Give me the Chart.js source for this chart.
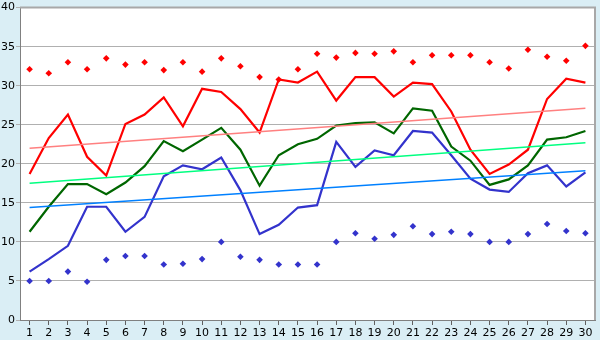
<!DOCTYPE html>
<html>
<head>
<meta charset="utf-8">
<script src="https://cdn.jsdelivr.net/npm/chart.js@4"></script>
<style>
  body { margin: 0; background: #daeef5; }
  #wrap { width: 600px; height: 340px; }
</style>
</head>
<body>
<div id="wrap"><canvas id="myChart" width="600" height="340"></canvas></div>
<script>
let days = [];
for (let i = 1; i <= 30; i++) days.push(String(i));

let highValues = [32.1, 31.6, 33.0, 32.1, 33.5, 32.7, 33.0, 32.0, 33.0, 31.8,
  33.5, 32.5, 31.1, 30.8, 32.1, 34.1, 33.6, 34.2, 34.1, 34.4,
  33.0, 33.9, 33.9, 33.9, 33.0, 32.2, 34.6, 33.7, 33.2, 35.1];
let redValues = [18.7, 23.3, 26.3, 20.9, 18.5, 25.1, 26.3, 28.5, 24.8, 29.6,
  29.2, 27.0, 24.0, 30.8, 30.4, 31.8, 28.1, 31.1, 31.1, 28.6,
  30.4, 30.2, 26.7, 21.8, 18.7, 19.9, 21.8, 28.3, 30.9, 30.4];
let greenValues = [11.3, 14.5, 17.4, 17.4, 16.1, 17.6, 19.7, 22.9, 21.6, 23.1,
  24.6, 21.8, 17.2, 21.1, 22.5, 23.2, 24.9, 25.2, 25.3, 23.9,
  27.1, 26.8, 22.2, 20.4, 17.3, 18.0, 19.8, 23.1, 23.4, 24.2];
let blueValues = [6.2, 7.8, 9.5, 14.5, 14.5, 11.3, 13.2, 18.4, 19.8, 19.3,
  20.8, 16.6, 11.0, 12.2, 14.4, 14.7, 22.8, 19.6, 21.7, 21.1,
  24.2, 24.0, 21.1, 18.1, 16.7, 16.4, 18.8, 19.8, 17.1, 18.9];
let lowValues = [5.0, 5.0, 6.2, 4.9, 7.7, 8.2, 8.2, 7.1, 7.2, 7.8,
  10.0, 8.1, 7.7, 7.1, 7.1, 7.1, 10.0, 11.1, 10.4, 10.9,
  12.0, 11.0, 11.3, 11.0, 10.0, 10.0, 11.0, 12.3, 11.4, 11.1];

// trend lines: value at day 1 and at day 30
let redTrend = [22.0, 27.1];
let greenTrend = [17.5, 22.7];
let blueTrend = [14.4, 19.1];

function trendData(ends) {
  let data = days.map(() => null);
  data[0] = ends[0];
  data[data.length - 1] = ends[1];
  return data;
}

function lineSet(data, color, width) {
  return {
    type: "line",
    data: data,
    borderColor: color,
    borderWidth: width,
    pointRadius: 0,
    tension: 0,
    spanGaps: true,
  };
}

function pointSet(data, color) {
  return {
    type: "line",
    data: data,
    showLine: false,
    pointStyle: "rectRot",
    pointRadius: 3.3,
    pointBackgroundColor: color,
    pointBorderColor: color,
    pointBorderWidth: 0,
  };
}

const plotArea = {
  id: "plotArea",
  beforeDraw(chart) {
    let a = chart.chartArea;
    let ctx = chart.ctx;
    ctx.save();
    ctx.fillStyle = "#ffffff";
    ctx.fillRect(a.left, a.top, a.right - a.left, a.bottom - a.top);
    ctx.restore();
  },
  afterDraw(chart) {
    let a = chart.chartArea;
    let ctx = chart.ctx;
    ctx.save();
    ctx.strokeStyle = "#a8a8a8";
    ctx.lineWidth = 2;
    ctx.beginPath();
    ctx.moveTo(a.left, a.top);
    ctx.lineTo(a.right, a.top);
    ctx.lineTo(a.right, a.bottom);
    ctx.stroke();
    ctx.restore();
  },
};

new Chart(document.getElementById("myChart"), {
  data: {
    labels: days,
    datasets: [
      pointSet(highValues, "#ff0000"),
      pointSet(lowValues, "#3333cc"),
      lineSet(trendData(redTrend), "#ff8080", 1.5),
      lineSet(trendData(greenTrend), "#00ff80", 1.5),
      lineSet(trendData(blueTrend), "#0080ff", 1.5),
      lineSet(redValues, "#ff0000", 2.2),
      lineSet(greenValues, "#006600", 2.2),
      lineSet(blueValues, "#3333cc", 2.2),
    ],
  },
  options: {
    responsive: false,
    animation: false,
    layout: { padding: { top: 5, right: 5, left: 0, bottom: 0 } },
    plugins: { legend: { display: false }, tooltip: { enabled: false } },
    scales: {
      x: {
        offset: true,
        grid: { drawOnChartArea: false, offset: false, tickLength: 5, color: "#606060" },
        border: { color: "#808080" },
        ticks: { color: "#000", font: { family: "DejaVu Sans", size: 11 }, padding: 2, maxRotation: 0, autoSkip: false },
        afterFit(scale) { scale.height = 20; },
      },
      y: {
        min: 0,
        max: 40,
        grid: { color: "#b0b0b0", tickLength: 4, lineWidth: 1 },
        border: { color: "#808080" },
        ticks: { stepSize: 5, color: "#000", font: { family: "DejaVu Sans", size: 11 }, padding: 1 },
        afterFit(scale) { scale.width = 20; },
      },
    },
  },
  plugins: [plotArea],
});
</script>
</body>
</html>
